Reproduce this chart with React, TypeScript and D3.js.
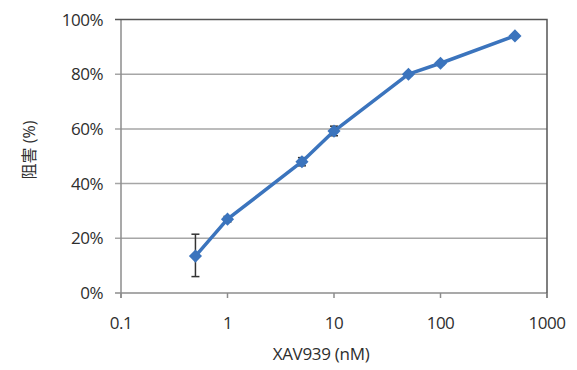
import { useEffect, useRef } from "react";
import * as d3 from "d3";

const doses = [0.5, 1, 5, 10, 50, 100, 500];
const inhibition = [0.135, 0.27, 0.48, 0.592, 0.8, 0.84, 0.94];
const errLow = [0.06, 0.26, 0.465, 0.575, 0.795, 0.835, 0.935];
const errHigh = [0.215, 0.28, 0.495, 0.61, 0.805, 0.845, 0.945];
const xTicks = [0.1, 1, 10, 100, 1000];
const yTicks = [0, 0.2, 0.4, 0.6, 0.8, 1];

export default function App() {
  const svgRef = useRef<SVGSVGElement | null>(null);
  const width = 577;
  const height = 370;

  useEffect(() => {
    const svg = d3.select(svgRef.current);
    svg.selectAll("*").remove();

    const margin = { top: 19.5, right: 30, bottom: 77, left: 121 };
    const font = "'Open Sans', 'Noto Sans CJK JP', sans-serif";
    const blue = "#3b74bd";
    const textColor = "#2e2e2e";

    const x = d3.scaleLog().domain([0.1, 1000]).range([margin.left, width - margin.right]);
    const y = d3.scaleLinear().domain([0, 1]).range([height - margin.bottom, margin.top]);

    // gridlines
    svg
      .selectAll(".grid")
      .data(yTicks.slice(1, -1))
      .join("line")
      .attr("x1", margin.left - 6)
      .attr("x2", width - margin.right)
      .attr("y1", (d) => y(d))
      .attr("y2", (d) => y(d))
      .attr("stroke", "#a6a6a6")
      .attr("stroke-width", 1.5);

    // bottom axis + left axis (grey)
    svg
      .append("line")
      .attr("x1", margin.left - 6)
      .attr("x2", width - margin.right)
      .attr("y1", y(0))
      .attr("y2", y(0))
      .attr("stroke", "#8c8c8c")
      .attr("stroke-width", 1.5);
    svg
      .append("line")
      .attr("x1", margin.left)
      .attr("x2", margin.left)
      .attr("y1", y(1))
      .attr("y2", y(0) + 5)
      .attr("stroke", "#8c8c8c")
      .attr("stroke-width", 1.5);

    // top + right border (darker)
    svg
      .append("path")
      .attr("d", `M${margin.left - 6},${y(1)}H${x(1000)}V${y(0) + 5}`)
      .attr("fill", "none")
      .attr("stroke", "#555")
      .attr("stroke-width", 1.5);

    // x ticks
    svg
      .selectAll(".xtick")
      .data(xTicks)
      .join("line")
      .attr("x1", (d) => x(d))
      .attr("x2", (d) => x(d))
      .attr("y1", y(0))
      .attr("y2", y(0) + 5)
      .attr("stroke", "#8c8c8c")
      .attr("stroke-width", 1.5);

    svg
      .selectAll(".xlabel")
      .data(xTicks)
      .join("text")
      .attr("x", (d) => x(d))
      .attr("y", y(0) + 36)
      .attr("text-anchor", "middle")
      .attr("font-family", font)
      .attr("font-size", 17)
      .attr("letter-spacing", -0.5)
      .attr("fill", textColor)
      .text((d) => String(d));

    svg
      .selectAll(".ylabel")
      .data(yTicks)
      .join("text")
      .attr("x", margin.left - 18)
      .attr("y", (d) => y(d))
      .attr("dy", "0.36em")
      .attr("text-anchor", "end")
      .attr("font-family", font)
      .attr("font-size", 17)
      .attr("letter-spacing", -0.5)
      .attr("fill", textColor)
      .text((d) => `${Math.round(d * 100)}%`);

    // error bars
    doses.forEach((d, i) => {
      const cx = x(d);
      const g = svg.append("g").attr("stroke", "#333").attr("stroke-width", 1.5);
      g.append("line").attr("x1", cx).attr("x2", cx).attr("y1", y(errLow[i])).attr("y2", y(errHigh[i]));
      g.append("line").attr("x1", cx - 4).attr("x2", cx + 4).attr("y1", y(errLow[i])).attr("y2", y(errLow[i]));
      g.append("line").attr("x1", cx - 4).attr("x2", cx + 4).attr("y1", y(errHigh[i])).attr("y2", y(errHigh[i]));
    });

    const line = d3
      .line<number>()
      .x((_, i) => x(doses[i]))
      .y((v) => y(v));

    svg
      .append("path")
      .datum(inhibition)
      .attr("fill", "none")
      .attr("stroke", blue)
      .attr("stroke-width", 3.5)
      .attr("stroke-linejoin", "round")
      .attr("d", line);

    const diamond = d3.symbol().type(d3.symbolDiamond2).size(110);
    svg
      .selectAll(".pt")
      .data(inhibition)
      .join("path")
      .attr("d", diamond)
      .attr("transform", (v, i) => `translate(${x(doses[i])},${y(v)})`)
      .attr("fill", blue);

    svg
      .append("text")
      .attr("x", 321)
      .attr("y", 360)
      .attr("text-anchor", "middle")
      .attr("font-family", font)
      .attr("font-size", 17)
      .attr("letter-spacing", -0.3)
      .attr("fill", textColor)
      .text("XAV939 (nM)");

    svg
      .append("text")
      .attr("transform", `translate(35,150) rotate(-90)`)
      .attr("text-anchor", "middle")
      .attr("font-family", font)
      .attr("font-size", 16)
      .attr("fill", textColor)
      .text("阻害 (%)");
  }, []);

  return (
    <svg
      ref={svgRef}
      width={width}
      height={height}
      style={{ position: "absolute", left: 0, top: 0, background: "#fff" }}
    ></svg>
  );
}
